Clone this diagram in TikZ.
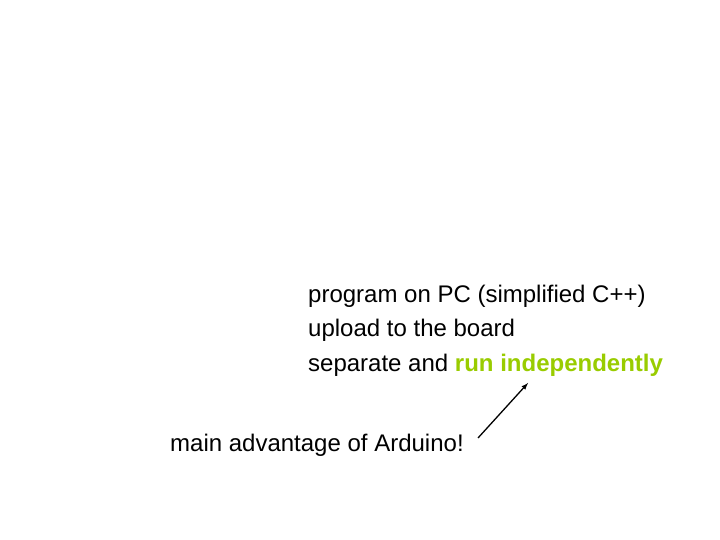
\documentclass[tikz,border=0pt]{standalone}
\usepackage{fontspec}
\setmainfont{Liberation Sans}
\definecolor{hl}{RGB}{153,204,0}
\begin{document}
\begin{tikzpicture}[x=1pt,y=1pt,
  txt/.style={anchor=base west,inner sep=0pt,font=\fontsize{24}{28}\selectfont}]
\useasboundingbox[fill=white] (0,0) rectangle (720,540);
\node[txt] (l1) at (308,237) {program on PC (simplified C++)};
\node[txt] (l2) at (308,203) {upload to the board};
\node[txt] (l3) at (308,168) {separate and \textcolor{hl}{\textbf{run independently}}};
\node[txt] (m) at (170,88) {main advantage of Arduino!};
\coordinate (s) at (478,102);
\coordinate (e) at (528,157);
\draw[line width=1.3pt,-latex] (s) -- (e);
\end{tikzpicture}
\end{document}
